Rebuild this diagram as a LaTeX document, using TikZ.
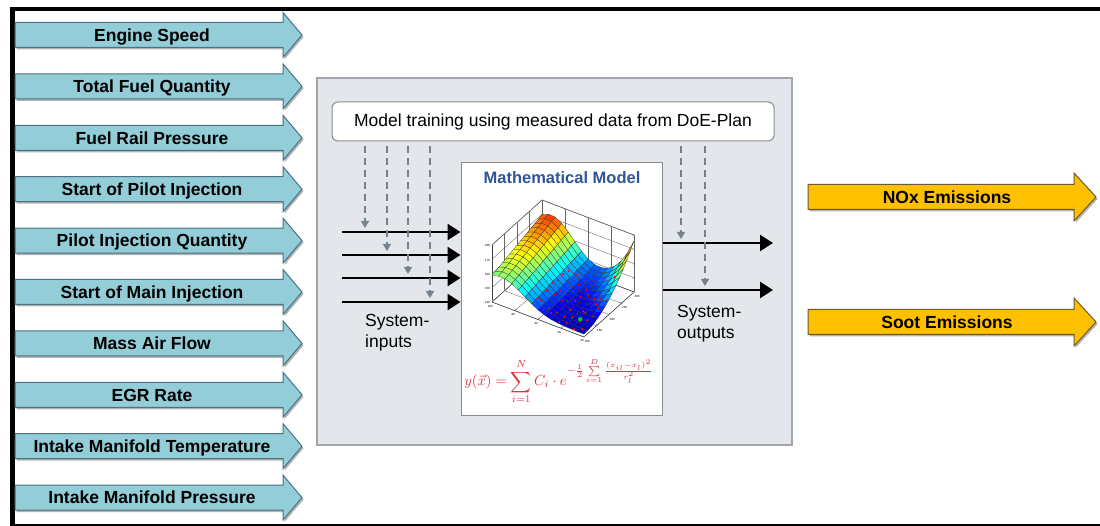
\documentclass[tikz,border=0pt]{standalone}
\usepackage[no-math]{fontspec}
\setmainfont{Liberation Sans}
\usepackage{amsmath}
\usepackage{pgfplots}
\pgfplotsset{compat=1.18}
\usetikzlibrary{arrows.meta}
\definecolor{aquaf}{HTML}{93CDD8}
\definecolor{aquad}{HTML}{4A7187}
\definecolor{goldf}{HTML}{FFC000}
\definecolor{goldd}{HTML}{6E5A28}
\definecolor{panelf}{HTML}{E3E6EA}
\definecolor{paneld}{HTML}{A2A6AA}
\definecolor{dashc}{HTML}{76838F}
\definecolor{mblue}{HTML}{2F5597}
\definecolor{fred}{HTML}{E0303C}
\pgfplotsset{colormap={myjet}{rgb255=(0,0,143) rgb255=(0,0,255) rgb255=(0,128,255) rgb255=(0,255,255) rgb255=(128,255,128) rgb255=(255,255,0) rgb255=(255,128,0) rgb255=(255,0,0) rgb255=(128,0,0)}}
\begin{document}
\begin{tikzpicture}[x=1pt,y=1pt,
  lbl/.style={font=\fontsize{17.5}{20}\selectfont\bfseries, inner sep=0pt, text height=12.5pt, text depth=0pt},
  txt/.style={font=\fontsize{17.5}{21}\selectfont, inner sep=0pt},
  blk/.style={line width=2.4pt, -{Triangle[length=13pt,width=16pt]}},
  dsh/.style={dashc, line width=1.4pt, dash pattern=on 7pt off 5pt, dash phase=7pt, -{Triangle[length=7pt,width=8pt]}},
  shad/.style={fill=black!60, opacity=0.5},
  inarr/.style={fill=aquaf, draw=aquad, line width=1pt},
  outarr/.style={fill=goldf, draw=goldd, line width=1pt},
  ]
\useasboundingbox (0,0) rectangle (1100,-526);
\fill[white] (0,0) rectangle (1100,-526);
% frame
\draw[line width=4pt] (10,-9) -- (1100,-9);
\draw[line width=4.5pt] (12.5,-7) -- (12.5,-526);
\draw[line width=2pt] (10,-525) -- (1100,-525);
% input arrows
\foreach \i/\t in {0/Engine Speed,1/Total Fuel Quantity,2/Fuel Rail Pressure,3/Start of Pilot Injection,4/Pilot Injection Quantity,5/Start of Main Injection,6/Mass Air Flow,7/EGR Rate,8/Intake Manifold Temperature,9/Intake Manifold Pressure}{
  \pgfmathsetmacro\yc{-35-51.4*\i}
  \fill[shad] (16.5,\yc+10.5) -- (284.5,\yc+10.5) -- (284.5,\yc+20.5) -- (303.5,\yc-2) -- (284.5,\yc-24.5) -- (284.5,\yc-14.5) -- (16.5,\yc-14.5) -- cycle;
  \draw[inarr] (15,\yc+12.5) -- (283,\yc+12.5) -- (283,\yc+22.5) -- (302,\yc) -- (283,\yc-22.5) -- (283,\yc-12.5) -- (15,\yc-12.5) -- cycle;
  \node[lbl] (in\i) at (152,\yc) {\t};
}
% output arrows
\foreach \j/\yc/\t in {1/-197/NOx Emissions,2/-322/Soot Emissions}{
  \fill[shad] (809.5,\yc+10.5) -- (1075.5,\yc+10.5) -- (1075.5,\yc+22) -- (1097.5,\yc-2) -- (1075.5,\yc-26) -- (1075.5,\yc-14.5) -- (809.5,\yc-14.5) -- cycle;
  \draw[outarr] (808,\yc+12.5) -- (1074,\yc+12.5) -- (1074,\yc+24) -- (1096,\yc) -- (1074,\yc-24) -- (1074,\yc-12.5) -- (808,\yc-12.5) -- cycle;
  \node[lbl] (out\j) at (947,\yc) {\t};
}
% panel
\node[draw=paneld, fill=panelf, line width=1.2pt, minimum width=475pt, minimum height=367pt, inner sep=0pt] (panel) at (554.5,-261.5) {};
\node[draw=black!45, fill=white, rounded corners=6pt, line width=1pt, minimum width=442pt, minimum height=39pt, txt] (train) at (553,-121.5) {Model training using measured data from DoE-Plan};
\node[draw=black!45, fill=white, line width=1pt, minimum width=201pt, minimum height=252pt] (mm) at (561.5,-289) {};
\node[font=\fontsize{16.5}{19}\selectfont\bfseries, text=mblue, inner sep=0pt, text height=12pt, text depth=0pt] (mtitle) at (562,-178) {Mathematical Model};
% surface plot
\coordinate (pc) at (492,-302);
\pgfmathsetseed{11}
\begin{scope}[x=1cm,y=1cm]
\begin{axis}[at={(pc)}, anchor=origin,
 x={(92pt,-35pt)}, y={(50pt,45pt)}, z={(0pt,1.425pt)},
 declare function={f(\x,\y)=2+30*exp(0-((\x-0.1)^2)/0.12)*(0.6+0.4*\y)+34*(\x^5)*(\y^2);},
 xmin=0,xmax=1,ymin=0,ymax=1,zmin=0,zmax=40,
 xtick={0,0.25,0.5,0.75,1}, xticklabels={100,80,60,40,20},
 ytick={0,0.25,0.5,0.75,1}, yticklabels={100,150,200,250,300},
 ztick={0,10,20,30,40}, zticklabels={140,150,160,170,180},
 tick label style={font=\tiny, scale=0.6},
 grid=major, grid style={black!60, line width=0.35pt},
 axis line style={black!75, line width=0.45pt},
 major tick length=1.5pt,
 colormap name=myjet, point meta min=0, point meta max=38.5,
 clip=false]
\addplot3[surf, shader=faceted, faceted color=black!80, line width=0.25pt, samples=15, domain=0:1, y domain=0:1, z buffer=sort, point meta=z] {f(x,y)};
\addplot3[only marks, mark=+, mark size=0.9pt, red, line width=0.3pt, samples=7, domain=0.45:0.95, y domain=0.05:0.7, point meta=none] {f(x,y)+4*rand};
\addplot3[only marks, mark=*, mark size=2.2pt, green!85!black, draw=green!50!black, point meta=none] coordinates {(0.85,0.2,2.5)};
\end{axis}
\end{scope}
% formula
\node[text=fred, inner sep=0pt, scale=1.45] (eq) at (559,-381) {$\displaystyle y(\vec{x}) = \sum_{i=1}^{N} C_i\cdot e^{-\frac{1}{2}\sum\limits_{i=1}^{D}\frac{(x_{il}-x_l)^2}{r_l^2}}$};
% signal arrows
\foreach \k/\yy in {1/232,2/255,3/278,4/302}{
  \coordinate (s\k) at (342,-\yy);
  \draw[blk] (s\k) -- (s\k -| mm.west);
}
\coordinate (t1) at (365,-228);
\coordinate (t2) at (387,-251);
\coordinate (t3) at (408,-274);
\coordinate (t4) at (430,-298);
\foreach \k in {1,2,3,4}{\draw[dsh] (train.south -| t\k) -- (t\k);}
\coordinate (o1) at (773,-243);
\coordinate (o2) at (773,-290);
\draw[blk] (o1 -| mm.east) -- (o1);
\draw[blk] (o2 -| mm.east) -- (o2);
\coordinate (u1) at (681,-239);
\coordinate (u2) at (705,-286);
\draw[dsh] (train.south -| u1) -- (u1);
\draw[dsh] (train.south -| u2) -- (u2);
\node[txt, align=left, anchor=west] (sin) at (365,-332.5) {System-\\inputs};
\node[txt, align=left, anchor=west] (sout) at (677,-323.5) {System-\\outputs};
\end{tikzpicture}
\end{document}
